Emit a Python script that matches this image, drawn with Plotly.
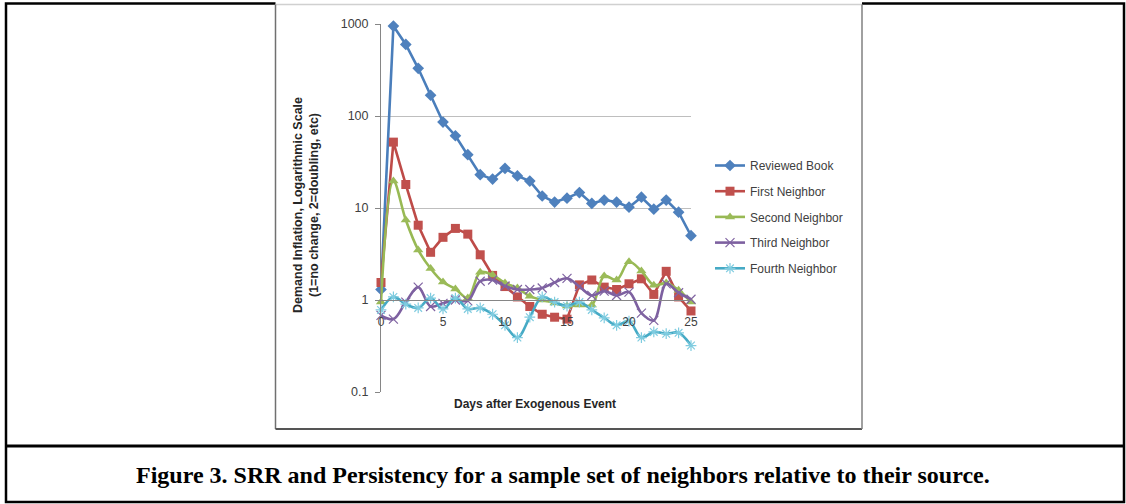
import plotly.graph_objects as go

days = list(range(26))
reviewed_book = [1.3, 950, 600, 330, 168, 86, 61, 38, 23, 20.6, 27, 22.3, 19.6, 13.5, 11.6, 12.8,
                 14.7, 11.2, 12.2, 11.6, 10.2, 13.1, 9.7, 12.2, 9.0, 5.0]
first_neighbor = [1.55, 52, 18, 6.5, 3.3, 4.8, 6.0, 5.2, 3.1, 1.85, 1.4, 1.08, 0.85, 0.70, 0.65, 0.62,
                  1.46, 1.65, 1.38, 1.3, 1.5, 1.7, 1.15, 2.05, 1.08, 0.76]
second_neighbor = [0.95, 19.6, 7.4, 3.5, 2.2, 1.57, 1.32, 1.05, 2.0, 1.87, 1.53, 1.35, 1.1, 1.0, 0.93, 0.86,
                   0.88, 0.88, 1.82, 1.65, 2.6, 2.06, 1.45, 1.53, 1.28, 0.95]
third_neighbor = [0.68, 0.62, 0.95, 1.38, 0.85, 0.92, 1.0, 0.98, 1.6, 1.65, 1.42, 1.3, 1.3, 1.35, 1.55, 1.72,
                  1.4, 1.12, 1.25, 1.12, 1.22, 0.72, 0.6, 1.5, 1.2, 1.02]
fourth_neighbor = [0.78, 1.08, 0.9, 0.82, 1.05, 0.8, 1.05, 0.8, 0.82, 0.7, 0.53, 0.39, 0.65, 1.08, 0.95, 0.86,
                   0.95, 0.78, 0.64, 0.53, 0.59, 0.39, 0.45, 0.43, 0.44, 0.32]

y_ticks = [0.1, 1, 10, 100, 1000]
y_tick_text = ["0.1", "1", "10", "100", "1000"]
x_ticks = [0, 5, 10, 15, 20, 25]

W, H = 1126, 504
L, R, T, B = 381, 435, 24, 112
PW, PH = W - L - R, H - T - B


def px(x):
    return (x - L) / PW


def py(y):
    return (H - B - y) / PH


SANS = "Liberation Sans"
series = [
    ("Reviewed Book", reviewed_book, "#4A7EBB", "#4F81BD", "diamond", 9, "linear"),
    ("First Neighbor", first_neighbor, "#BE4B48", "#C0504D", "square", 9, "linear"),
    ("Second Neighbor", second_neighbor, "#98B954", "#9BBB59", "triangle-up", 9, "spline"),
    ("Third Neighbor", third_neighbor, "#7D60A0", "#8064A2", "x-thin-open", 9, "spline"),
    ("Fourth Neighbor", fourth_neighbor, "#46AAC5", "#7FCCE0", "asterisk-open", 9, "spline"),
]

fig = go.Figure()
for name, vals, lc, mc, sym, ms, shape in series:
    marker = dict(symbol=sym, size=ms, color=mc)
    if sym.endswith("open"):
        marker["line"] = dict(color=mc, width=1.2)
    fig.add_trace(go.Scatter(
        x=days, y=vals, name=name, mode="lines+markers", legendgroup=name,
        line=dict(color=lc, width=2.6, shape=shape, smoothing=1.0),
        marker=marker, cliponaxis=False,
    ))

shapes = []
# outer document border
shapes.append(dict(type="rect", xref="paper", yref="paper", x0=px(6), x1=px(1124), y0=py(502), y1=py(3.5),
                   line=dict(color="black", width=2.5), layer="below"))
shapes.append(dict(type="line", xref="paper", yref="paper", x0=px(6), x1=px(1124), y0=py(446), y1=py(446),
                   line=dict(color="black", width=3), layer="below"))
# chart frame
shapes.append(dict(type="rect", xref="paper", yref="paper", x0=px(275.5), x1=px(862), y0=py(429), y1=py(2),
                   line=dict(width=0), fillcolor="white", layer="below"))
shapes.append(dict(type="line", xref="paper", yref="paper", x0=px(275.5), x1=px(862), y0=py(4.5), y1=py(4.5),
                   line=dict(color="#D0D0D0", width=1.5), layer="below"))
shapes.append(dict(type="line", xref="paper", yref="paper", x0=px(275.5), x1=px(275.5), y0=py(429), y1=py(4.5),
                   line=dict(color="#707070", width=1.5), layer="below"))
shapes.append(dict(type="line", xref="paper", yref="paper", x0=px(275.5), x1=px(862), y0=py(429), y1=py(429),
                   line=dict(color="#555555", width=2), layer="below"))
shapes.append(dict(type="line", xref="paper", yref="paper", x0=px(862), x1=px(862), y0=py(429), y1=py(4.5),
                   line=dict(color="#808080", width=1.5), layer="below"))

annotations = [
    dict(text="<b>Days after Exogenous Event</b>", xref="paper", yref="paper", x=px(535), y=py(404),
         xanchor="center", yanchor="middle", showarrow=False, font=dict(family=SANS, size=12, color="#262626")),
    dict(text="<b>Demand Inflation, Logarithmic Scale<br>(1=no change, 2=doubling, etc)</b>", xref="paper",
         yref="paper", x=px(306), y=py(205), xanchor="center", yanchor="middle", textangle=-90, showarrow=False,
         font=dict(family=SANS, size=12.5, color="#262626")),
    dict(text="<b>Figure 3. SRR and Persistency for a sample set of neighbors relative to their source.</b>",
         xref="paper", yref="paper", x=px(563), y=py(475), xanchor="center", yanchor="middle", showarrow=False,
         font=dict(family="Liberation Serif", size=24, color="black")),
]

fig.update_layout(
    width=W, height=H,
    margin=dict(l=L, r=R, t=T, b=B, autoexpand=False),
    paper_bgcolor="white", plot_bgcolor="white",
    shapes=shapes, annotations=annotations,
    showlegend=True,
    legend=dict(x=px(710), y=py(151), xanchor="left", yanchor="top", bgcolor="rgba(0,0,0,0)",
                font=dict(family=SANS, size=12, color="#404040"), tracegroupgap=6.7, itemwidth=30),
    xaxis=dict(range=[0, 25], tickvals=x_ticks, ticks="", showgrid=False, zeroline=False,
               showline=True, linecolor="#868686", linewidth=1, anchor="free", position=0.25,
               ticklabelstandoff=11, tickfont=dict(family=SANS, size=12, color="#404040")),
    yaxis=dict(type="log", range=[-1, 3], tickvals=y_ticks, ticktext=y_tick_text, ticks="outside",
               ticklen=5, tickcolor="#868686", showgrid=True, gridcolor="#BEBEBE", gridwidth=1,
               showline=True, linecolor="#868686", linewidth=1, zeroline=False,
               ticklabelstandoff=4, tickfont=dict(family=SANS, size=12.5, color="#404040")),
)

fig.write_html("out.html", config={"displayModeBar": False},
               post_script="document.body.style.margin='0px';")
